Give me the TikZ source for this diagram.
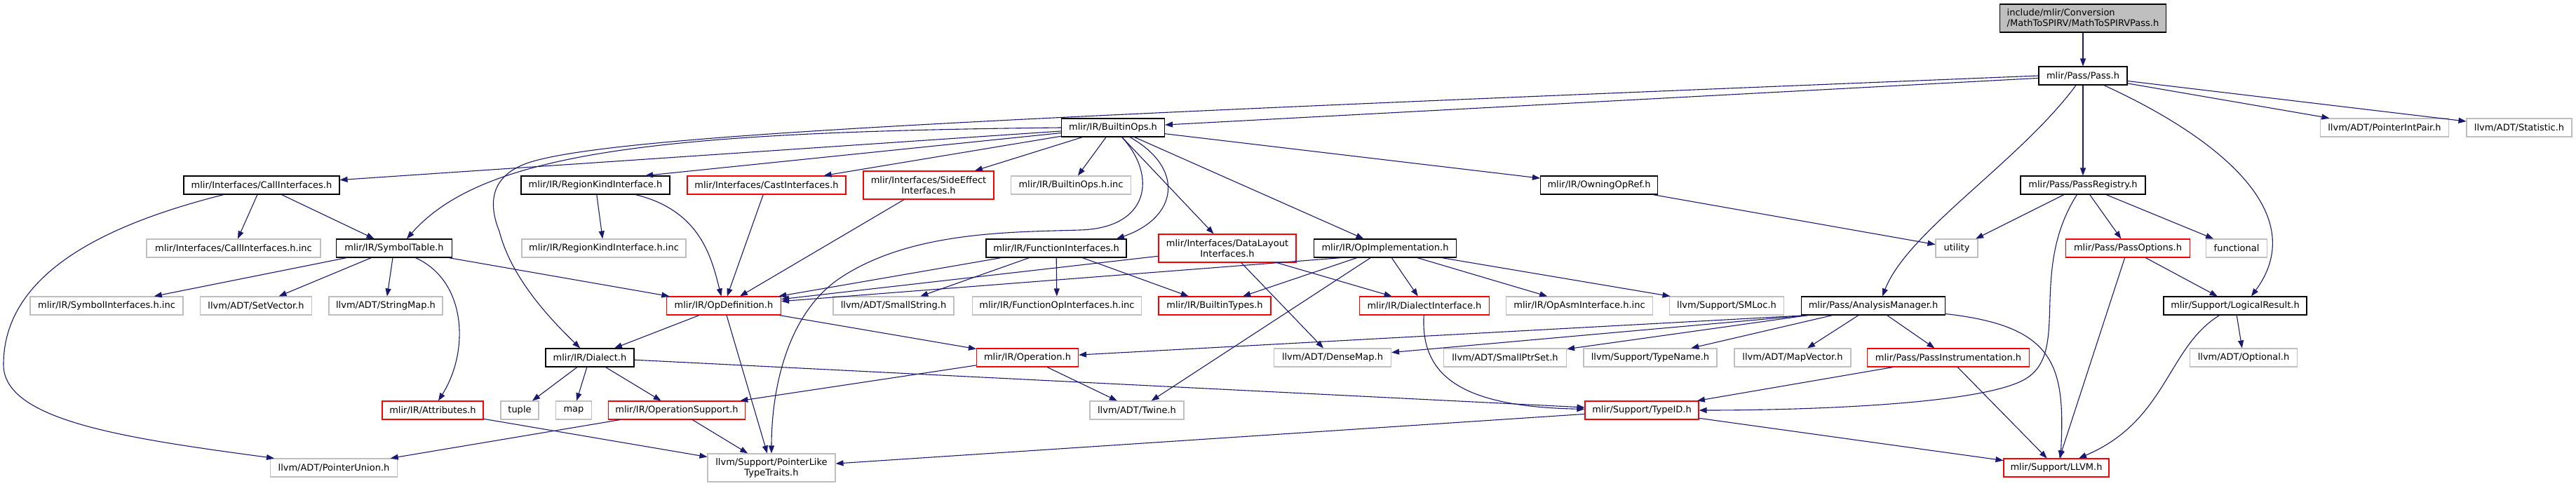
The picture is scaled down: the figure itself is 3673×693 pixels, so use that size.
\documentclass[tikz,border=0pt]{standalone}
\usepackage{fontspec}
\setmainfont{DejaVu Sans}
\usetikzlibrary{arrows.meta}
\definecolor{edgeblue}{RGB}{25,25,112}
\definecolor{boxgray}{RGB}{191,191,191}

\begin{document}
\begin{tikzpicture}[x=1pt, y=-1pt,
  fb/.style={draw, line width=1.1pt, fill=white, minimum height=26pt, inner sep=0pt, align=center, font=\fontsize{13}{15}\selectfont},
  doc/.style={fb, draw=black},
  ext/.style={fb, draw=boxgray},
  exttwo/.style={ext, minimum height=40pt},
  cut/.style={fb, draw=red},
  cuttwo/.style={cut, minimum height=40pt},
  root/.style={fb, draw=black, fill=boxgray, minimum height=40pt, align=left},
  arr/.style={-{Triangle[length=11pt, width=8pt]}, color=edgeblue, line width=1.1pt}
]
\fill[white] (0,0) rectangle (3673,693);
\useasboundingbox (0,0) rectangle (3673,693);

% files, row by row
\foreach \n/\x/\y/\w/\s/\t in {
 top/2970/26/237/root/{include/mlir/Conversion\\/MathToSPIRV/MathToSPIRVPass.h},
 pass/2970/108/126/doc/{mlir/Pass/Pass.h},
 builtinops/1587/182/147/doc/{mlir/IR/BuiltinOps.h},
 ptrintpair/3400/182/183/ext/{llvm/ADT/PointerIntPair.h},
 statistic/3592/182/150/ext/{llvm/ADT/Statistic.h},
 callif/373/264/222/doc/{mlir/Interfaces/CallInterfaces.h},
 regionkind/849/264/212/doc/{mlir/IR/RegionKindInterface.h},
 castif/1093/264/226/cut/{mlir/Interfaces/CastInterfaces.h},
 sideeffect/1324/264/186/cuttwo/{mlir/Interfaces/SideEffect\\Interfaces.h},
 builtinopsinc/1527/264/171/ext/{mlir/IR/BuiltinOps.h.inc},
 owning/2280/264/167/doc/{mlir/IR/OwningOpRef.h},
 registry/2970/264/178/doc/{mlir/Pass/PassRegistry.h},
 callifinc/333/354/248/ext/{mlir/Interfaces/CallInterfaces.h.inc},
 symtab/562/354/165/doc/{mlir/IR/SymbolTable.h},
 regionkindinc/861/354/234/ext/{mlir/IR/RegionKindInterface.h.inc},
 funcif/1506/354/200/doc/{mlir/IR/FunctionInterfaces.h},
 datalayout/1750/354/196/cuttwo/{mlir/Interfaces/DataLayout\\Interfaces.h},
 opimpl/1975/354/203/doc/{mlir/IR/OpImplementation.h},
 utility/2790/354/60/ext/{utility},
 passoptions/3034/354/177/cut/{mlir/Pass/PassOptions.h},
 functional/3189/354/87/ext/{functional},
 symifinc/152/436/218/ext/{mlir/IR/SymbolInterfaces.h.inc},
 setvector/365/436/159/ext/{llvm/ADT/SetVector.h},
 stringmap/550/436/162/ext/{llvm/ADT/StringMap.h},
 opdef/1032/436/163/cut/{mlir/IR/OpDefinition.h},
 smallstring/1274/436/172/ext/{llvm/ADT/SmallString.h},
 funcopifinc/1507/436/241/ext/{mlir/IR/FunctionOpInterfaces.h.inc},
 builtintypes/1732/436/160/cut/{mlir/IR/BuiltinTypes.h},
 dialectif/2031/436/185/cut/{mlir/IR/DialectInterface.h},
 opasminc/2252/436/209/ext/{mlir/IR/OpAsmInterface.h.inc},
 smloc/2462/436/163/ext/{llvm/Support/SMLoc.h},
 analysis/2671/436/205/doc/{mlir/Pass/AnalysisManager.h},
 logical/3187/436/204/doc/{mlir/Support/LogicalResult.h},
 dialect/841/510/126/doc/{mlir/IR/Dialect.h},
 operation/1465/510/145/cut/{mlir/IR/Operation.h},
 densemap/1900/510/167/ext/{llvm/ADT/DenseMap.h},
 smallptrset/2146/510/175/ext/{llvm/ADT/SmallPtrSet.h},
 typename/2353/510/190/ext/{llvm/Support/TypeName.h},
 mapvector/2556/510/166/ext/{llvm/ADT/MapVector.h},
 passinstr/2778/510/231/cut/{mlir/Pass/PassInstrumentation.h},
 optional/3199/510/153/ext/{llvm/ADT/Optional.h},
 attributes/617/585/144/cut/{mlir/IR/Attributes.h},
 tuple/741/585/54/ext/{tuple},
 map/818/585/51/ext/{map},
 opsupport/965/585/195/cut/{mlir/IR/OperationSupport.h},
 twine/1621/585/134/ext/{llvm/ADT/Twine.h},
 typeid/2341/585/162/cut/{mlir/Support/TypeID.h},
 ptrunion/476/667/181/ext/{llvm/ADT/PointerUnion.h},
 ptrlike/1100/667/182/exttwo/{llvm/Support/PointerLike\\TypeTraits.h},
 llvmh/2932/667/150/cut/{mlir/Support/LLVM.h}}
 \node[\s, minimum width=\w pt] (\n) at (\x,\y) {\t};

% straight includes
\foreach \a/\b in {top/pass, pass/builtinops, pass/registry, pass/ptrintpair, pass/statistic,
 builtinops/callif, builtinops/castif, builtinops/sideeffect, builtinops/builtinopsinc,
 builtinops/datalayout, builtinops/opimpl, builtinops/owning,
 callif/callifinc, callif/symtab, regionkind/regionkindinc, castif/opdef, sideeffect/opdef,
 symtab/symifinc, symtab/setvector, symtab/stringmap, symtab/opdef,
 funcif/opdef, funcif/smallstring, funcif/funcopifinc, funcif/builtintypes,
 datalayout/opdef, datalayout/densemap, datalayout/dialectif,
 opimpl/builtintypes, opimpl/twine, opimpl/dialectif, opimpl/opasminc, opimpl/smloc,
 owning/utility, registry/utility, registry/passoptions, registry/functional,
 passoptions/logical, passoptions/llvmh, logical/optional,
 opdef/dialect, opdef/ptrlike, opdef/operation,
 dialect/tuple, dialect/map, dialect/opsupport, dialect/typeid,
 operation/twine, operation/opsupport,
 analysis/typename, analysis/mapvector, analysis/passinstr,
 passinstr/typeid, passinstr/llvmh, attributes/ptrlike,
 opsupport/ptrunion, opsupport/ptrlike, typeid/ptrlike, typeid/llvmh}
 \draw[arr] (\a) -- (\b);

\foreach \b in {operation, densemap, smallptrset}
 \draw[arr] ([xshift=10pt]analysis.south west) -- (\b);
\draw[arr] ([xshift=-62pt]opimpl.south) -- (opdef);
\draw[arr] (builtinops) -- ([xshift=71pt]regionkind.north);

% curved includes
\draw[arr] (pass.west) .. controls (1500,165) and (900,190) .. (760,230)
 .. controls (690,250) and (700,300) .. (712,330) .. controls (730,400) and (790,460) .. (dialect);
\draw[arr] (pass) .. controls (2880,230) and (2720,330) .. ([xshift=13pt]analysis.north);
\draw[arr] (pass) .. controls (3150,190) and (3300,300) .. ([xshift=23pt]logical.north);
\draw[arr] (builtinops.west) .. controls (950,188) and (690,215) .. ([xshift=18pt]symtab.north);
\draw[arr] (builtinops) .. controls (1690,240) and (1680,310) .. ([xshift=86pt]funcif.north);
\draw[arr] (builtinops) .. controls (1650,250) and (1640,325) .. (1540,328)
 .. controls (1440,331) and (1300,330) .. (1200,395) .. controls (1120,447) and (1100,560) .. (ptrlike);
\draw[arr] (callif) .. controls (150,320) and (5,390) .. (5,520)
 .. controls (5,600) and (180,625) .. ([xshift=-85pt]ptrunion.north);
\draw[arr] (regionkind) .. controls (1000,300) and (1015,370) .. (opdef);
\draw[arr] (symtab) .. controls (665,400) and (670,500) .. ([xshift=8pt]attributes.north);
\draw[arr] (dialectif) .. controls (2025,540) and (2090,580) .. (typeid);
\draw[arr] (analysis) .. controls (2930,465) and (2945,520) .. ([xshift=6pt]llvmh.north);
\draw[arr] (registry) .. controls (2890,390) and (2955,505) .. (2885,542)
 .. controls (2815,579) and (2550,585) .. (typeid);
\draw[arr] (logical) .. controls (3090,495) and (3090,600) .. (llvmh);
\end{tikzpicture}
\end{document}
